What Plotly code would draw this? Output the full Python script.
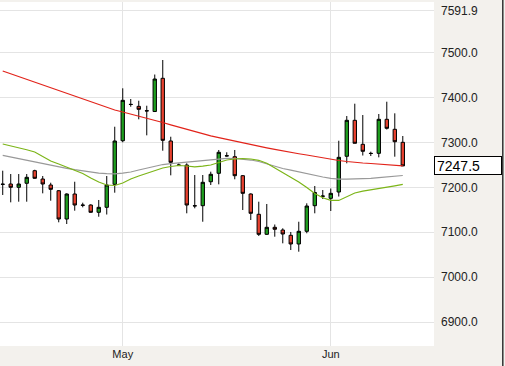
import plotly.graph_objects as go

# ---- data ----
idx = list(range(51))
opens = [7207, 7207.3, 7200.0, 7208.9, 7236.9, 7218.4, 7205.1, 7192.4, 7129.5, 7185.1,
         7160.6, 7160.6, 7144.4, 7155.5, 7206.6, 7303.5, 7384.4, 7379.9, 7370.2, 7368.4,
         7442.2, 7302.9, 7249.5, 7249.5, 7159.1, 7159.1, 7212.4, 7231.1, 7270.2, 7268.0,
         7225.8, 7185.1, 7140.0, 7095.5, 7111.1, 7105.1, 7093.3, 7074.0, 7102.2, 7159.1,
         7180.6, 7175.5, 7189.5, 7268.9, 7348.9, 7295.5, 7275.5, 7275.5, 7351.1, 7328.9,
         7300.0]
highs = [7236.9, 7229.5, 7229.5, 7229.5, 7239.0, 7225.1, 7210.2, 7194.0, 7186.6, 7212.4,
         7165.8, 7162.2, 7171.8, 7225.1, 7334.6, 7420.0, 7396.2, 7392.4, 7381.3, 7450.6,
         7482.9, 7312.4, 7252.9, 7253.3, 7227.3, 7227.3, 7234.7, 7282.9, 7277.8, 7282.9,
         7227.3, 7186.6, 7168.0, 7162.9, 7117.3, 7108.9, 7100.7, 7123.5, 7164.4, 7202.9,
         7194.0, 7197.3, 7303.5, 7358.4, 7385.8, 7360.6, 7279.1, 7362.9, 7390.2, 7364.4,
         7314.0]
lows = [7182.9, 7166.6, 7168.0, 7168.0, 7219.0, 7186.6, 7170.2, 7122.2, 7118.4, 7148.0,
        7155.5, 7143.5, 7134.6, 7139.5, 7188.0, 7300.0, 7379.1, 7351.1, 7315.5, 7368.0,
        7281.3, 7226.6, 7247.3, 7142.2, 7153.3, 7123.5, 7205.1, 7206.6, 7268.0, 7217.8,
        7149.5, 7127.3, 7091.8, 7094.0, 7090.2, 7075.5, 7060.6, 7056.9, 7097.8, 7142.2,
        7174.0, 7147.3, 7179.5, 7253.3, 7297.8, 7270.6, 7269.5, 7266.6, 7328.4, 7268.0,
        7247.5]
closes = [7206.6, 7200.0, 7207.3, 7222.2, 7220.0, 7207.3, 7195.5, 7129.5, 7185.1, 7160.6,
          7160.0, 7144.4, 7155.5, 7205.1, 7302.9, 7393.3, 7384.0, 7373.3, 7369.8, 7440.6,
          7304.4, 7255.5, 7249.0, 7160.6, 7158.7, 7211.1, 7228.9, 7277.8, 7269.8, 7225.8,
          7186.6, 7142.2, 7095.5, 7111.1, 7106.7, 7096.2, 7074.0, 7102.2, 7158.4, 7188.4,
          7180.2, 7186.6, 7266.6, 7348.9, 7297.8, 7280.0, 7275.1, 7351.1, 7331.1, 7301.3,
          7247.5]

ma_red = [7458.4, 7452.2, 7446.0, 7439.5, 7433.3, 7426.9, 7420.6, 7414.4, 7408.0, 7401.8,
          7395.3, 7389.1, 7382.9, 7376.4, 7371.8, 7367.3, 7362.9, 7358.4, 7354.0, 7349.1,
          7344.0, 7338.9, 7333.8, 7328.6, 7323.5, 7318.4, 7314.4, 7310.4, 7306.4, 7302.4,
          7298.4, 7294.9, 7291.3, 7287.8, 7284.2, 7280.6, 7277.8, 7274.6, 7271.8, 7268.4,
          7265.1, 7261.8, 7259.5, 7257.3, 7255.1, 7254.0, 7252.9, 7251.8, 7250.4, 7249.1,
          7247.8]
ma_grey = [7271.1, 7267.3, 7264.0, 7260.2, 7256.4, 7252.9, 7249.5, 7245.8, 7242.2, 7239.1,
           7236.2, 7233.8, 7231.5, 7230.4, 7229.8, 7231.3, 7234.0, 7238.4, 7242.9, 7246.9,
           7250.6, 7252.4, 7254.0, 7255.8, 7257.3, 7258.9, 7260.6, 7262.6, 7264.4, 7264.0,
           7262.9, 7260.6, 7257.3, 7251.8, 7246.2, 7241.8, 7238.0, 7234.0, 7229.5, 7226.2,
           7222.9, 7220.0, 7218.0, 7218.0, 7218.4, 7219.1, 7220.0, 7221.3, 7222.9, 7224.4,
           7226.2]
ma_green = [7296.2, 7292.2, 7288.4, 7283.5, 7278.4, 7268.4, 7258.4, 7251.8, 7245.1, 7238.0,
            7230.6, 7220.6, 7211.8, 7205.1, 7204.0, 7209.5, 7218.4, 7225.1, 7231.1, 7237.1,
            7242.9, 7246.2, 7248.4, 7247.3, 7245.5, 7246.9, 7249.5, 7255.1, 7260.6, 7262.9,
            7264.0, 7262.9, 7260.0, 7253.3, 7242.9, 7234.0, 7222.9, 7211.8, 7199.6, 7186.2,
            7176.7, 7170.8, 7170.8, 7178.4, 7187.3, 7191.3, 7193.9, 7196.6, 7199.9, 7203.3,
            7206.6]

month_idx = [15, 41]
month_labels = ["May", "Jun"]
y_ticks = [6900.0, 7000.0, 7100.0, 7200.0, 7300.0, 7400.0, 7500.0, 7591.9]
last_price = 7247.5

FONT = "Liberation Sans, Arial, sans-serif"

fig = go.Figure()
fig.add_trace(go.Scatter(x=idx, y=ma_red, mode="lines",
                         line=dict(color="#e2231a", width=1.2), hoverinfo="skip"))
fig.add_trace(go.Scatter(x=idx, y=ma_grey, mode="lines",
                         line=dict(color="#999999", width=1.2), hoverinfo="skip"))
fig.add_trace(go.Scatter(x=idx, y=ma_green, mode="lines",
                         line=dict(color="#7cb518", width=1.2), hoverinfo="skip"))
fig.add_trace(go.Candlestick(
    x=idx, open=opens, high=highs, low=lows, close=closes,
    increasing=dict(fillcolor="#1e9e1e", line=dict(color="#000000", width=1)),
    decreasing=dict(fillcolor="#e8412f", line=dict(color="#000000", width=1)),
    whiskerwidth=0, hoverinfo="skip"))

fig.update_layout(
    width=505, height=366,
    margin=dict(l=0, r=71, t=2, b=20),
    paper_bgcolor="#f3f1ed", plot_bgcolor="#ffffff",
    showlegend=False, boxgap=0.4,
    font=dict(family=FONT, color="#222222"),
    xaxis=dict(range=[-0.34, 53.9], tickvals=month_idx, ticktext=month_labels,
               showgrid=True, gridcolor="#e4e4e4", gridwidth=1, zeroline=False,
               ticks="", tickfont=dict(size=11, color="#222222"),
               rangeslider=dict(visible=False), fixedrange=True),
    yaxis=dict(range=[6847.3, 7611.8], side="right", tickvals=y_ticks,
               ticktext=[f"{v:.1f}" for v in y_ticks],
               showgrid=True, gridcolor="#e4e4e4", gridwidth=1, zeroline=False,
               ticks="", ticklabelstandoff=6, tickfont=dict(size=12, color="#222222"),
               fixedrange=True),
)

fig.add_annotation(x=1, xref="paper", xanchor="left", y=last_price, yref="y",
                   text=f"{last_price:.1f}", showarrow=False, align="left",
                   font=dict(size=14, color="#000000", family=FONT),
                   bgcolor="#ffffff", bordercolor="#000000", borderwidth=1,
                   borderpad=2, width=62, height=13)

fig.add_shape(type="line", xref="paper", yref="paper", x0=1.1585, x1=1.1585,
              y0=-0.06, y1=1.01, line=dict(color="#333333", width=1.5))

fig.write_html("out.html", config={"displayModeBar": False},
               post_script="document.body.style.margin='0';document.body.style.padding='0';")
